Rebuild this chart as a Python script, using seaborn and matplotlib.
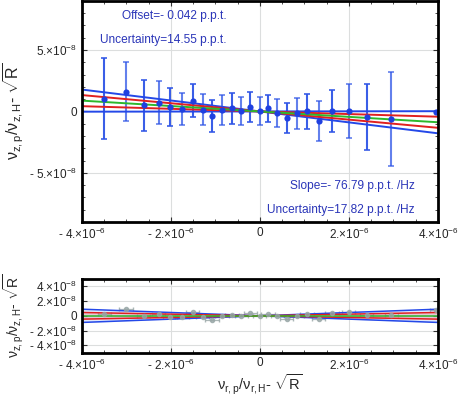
# import libraries
import numpy as np
import seaborn as sns
import matplotlib.pyplot as plt
from matplotlib.ticker import MultipleLocator, FixedLocator, FixedFormatter

sns.set_style("ticks")
plt.rcParams['font.family'] = ['Liberation Sans', 'DejaVu Sans']
plt.rcParams['mathtext.fontset'] = 'custom'
plt.rcParams['mathtext.rm'] = 'Liberation Sans'
plt.rcParams['mathtext.it'] = 'Liberation Sans'

# data (x in units of 1e-6, y in units of 1e-8)
x_vals = [-3.50, -3.01, -2.61, -2.28, -2.02, -1.75, -1.51, -1.29, -1.08, -0.85,
          -0.63, -0.42, -0.22, -0.01, 0.18, 0.39, 0.60, 0.83, 1.06, 1.32,
          1.62, 1.99, 2.40, 2.95, 3.96]
y_vals = [1.04, 1.60, 0.50, 0.72, 0.34, 0.20, 0.88, 0.14, -0.39, 0.12,
          0.24, 0.02, 0.38, 0.02, 0.26, -0.11, -0.54, -0.16, 0.00, -0.79,
          0.02, 0.02, -0.46, -0.59, -0.06]
y_err = [3.32, 2.41, 2.07, 1.73, 1.53, 1.34, 1.33, 1.24, 1.32, 1.24,
         1.30, 1.16, 1.20, 1.12, 1.10, 1.14, 1.24, 1.26, 1.44, 1.61,
         1.72, 2.21, 2.71, 3.82, 0.0]
x_err = [0.15] * len(x_vals)

# fit result
slope = -2.2e-3
slope_sig1 = 1.13e-3
slope_sig2 = 2.25e-3

x = np.array(x_vals) * 1e-6
y = np.array(y_vals) * 1e-8
ye = np.array(y_err) * 1e-8
xe = np.array(x_err) * 1e-6
xl = np.array([-4e-6, 4e-6])

blue = '#2f55e6'
txt_blue = '#2a35b8'
ylab = 'ν$_{z,p}$/ν$_{z,H}$- $\\sqrt{R}$'

fig = plt.figure(figsize=(4.63, 3.98), dpi=100)
ax1 = fig.add_axes([0.177, 0.442, 0.769, 0.556])
ax2 = fig.add_axes([0.177, 0.114, 0.769, 0.185])

# top panel
ax1.grid(True, color='#dcdede', lw=0.8)
for k, c in enumerate(x):
    if ye[k] > 0:
        ax1.errorbar(c, y[k], yerr=ye[k], fmt='none', ecolor=blue,
                     alpha=0.75 if k % 2 else 0.95, elinewidth=1.5, capsize=2.2, capthick=1.2)
sns.scatterplot(x=x, y=y, color='#1f40e0', s=20, marker='o', linewidth=0, ax=ax1, zorder=3)
sns.lineplot(x=xl, y=(slope + slope_sig2) * xl, color='#2448e8', lw=1.4, ax=ax1)
sns.lineplot(x=xl, y=(slope - slope_sig2) * xl, color='#2448e8', lw=1.4, ax=ax1)
sns.lineplot(x=xl, y=(slope + slope_sig1) * xl, color='#e02020', lw=1.4, ax=ax1)
sns.lineplot(x=xl, y=(slope - slope_sig1) * xl, color='#e02020', lw=1.4, ax=ax1)
sns.lineplot(x=xl, y=slope * xl, color='#2db82d', lw=1.4, ax=ax1)

ax1.set_xlim(-4e-6, 4e-6)
ax1.set_ylim(-9e-8, 9e-8)
ax1.yaxis.set_major_locator(FixedLocator([-5e-8, 0, 5e-8]))
ax1.yaxis.set_major_formatter(FixedFormatter(['- 5.×10$^{-8}$', '0', '5.×10$^{-8}$']))
ax1.yaxis.set_minor_locator(MultipleLocator(1e-8))

ax1.text(-0.76e-6, 7.8e-8, 'Offset=- 0.042 p.p.t.', color=txt_blue, fontsize=8.6, ha='right', va='center')
ax1.text(-0.76e-6, 5.85e-8, 'Uncertainty=14.55 p.p.t.', color=txt_blue, fontsize=8.6, ha='right', va='center')
ax1.text(3.47e-6, -6.07e-8, 'Slope=- 76.79 p.p.t. /Hz', color=txt_blue, fontsize=8.6, ha='right', va='center')
ax1.text(3.47e-6, -8.05e-8, 'Uncertainty=17.82 p.p.t. /Hz', color=txt_blue, fontsize=8.6, ha='right', va='center')
ax1.set_ylabel(ylab, fontsize=11.5)

# bottom panel: residuals
resid = y - slope * x
ax2.grid(True, color='#dcdede', lw=0.8)
ax2.fill_between(xl, slope_sig2 * xl, -slope_sig2 * xl, color='#8aa0f0', alpha=0.25, lw=0)
ax2.fill_between(xl, slope_sig1 * xl, -slope_sig1 * xl, color='#f08a8a', alpha=0.3, lw=0)
ax2.errorbar(x, resid, xerr=xe, fmt='o', color='#97a5a5', ms=3, alpha=0.8,
             elinewidth=0.9, capsize=1.5)
sns.lineplot(x=xl, y=slope_sig2 * xl, color='#2448e8', lw=1.1, ax=ax2)
sns.lineplot(x=xl, y=-slope_sig2 * xl, color='#2448e8', lw=1.1, ax=ax2)
sns.lineplot(x=xl, y=slope_sig1 * xl, color='#e02020', lw=1.1, ax=ax2)
sns.lineplot(x=xl, y=-slope_sig1 * xl, color='#e02020', lw=1.1, ax=ax2)
sns.lineplot(x=xl, y=0 * xl, color='#2db82d', lw=1.1, ax=ax2)

ax2.set_xlim(-4e-6, 4e-6)
ax2.set_ylim(-5e-8, 5e-8)
ax2.yaxis.set_major_locator(FixedLocator([-4e-8, -2e-8, 0, 2e-8, 4e-8]))
ax2.yaxis.set_major_formatter(FixedFormatter(['- 4.×10$^{-8}$', '- 2.×10$^{-8}$', '0',
                                              '2.×10$^{-8}$', '4.×10$^{-8}$']))
ax2.set_ylabel(ylab, fontsize=10)
ax2.set_xlabel('ν$_{r,p}$/ν$_{r,H}$- $\\sqrt{R}$', fontsize=10.5, labelpad=0)

x_labels = ['- 4.×10$^{-6}$', '- 2.×10$^{-6}$', '0', '2.×10$^{-6}$', '4.×10$^{-6}$']
for ax in (ax1, ax2):
    ax.xaxis.set_major_locator(FixedLocator([-4e-6, -2e-6, 0, 2e-6, 4e-6]))
    ax.xaxis.set_major_formatter(FixedFormatter(x_labels))
    ax.xaxis.set_minor_locator(MultipleLocator(0.5e-6))
    ax.tick_params(which='both', direction='in', top=True, right=True, labelsize=8.5, color='#333333')
    ax.tick_params(which='major', length=3.5, width=0.8)
    ax.tick_params(which='minor', length=2, width=0.6)
    for sp in ax.spines.values():
        sp.set_linewidth(2)
        sp.set_color('black')
        sp.set_zorder(5)
    if ax.get_legend():
        ax.get_legend().remove()

ax1.yaxis.set_label_coords(-0.158, 0.5)
ax2.yaxis.set_label_coords(-0.158, 0.5)

fig.savefig('out.png', dpi=100)
